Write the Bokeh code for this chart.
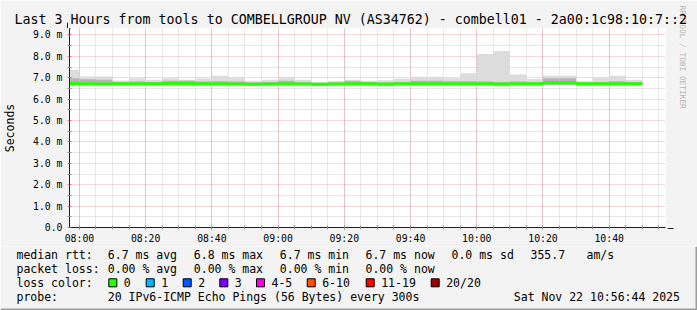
import math
from bokeh.plotting import figure
from bokeh.layouts import column
from bokeh.models import Range1d, FixedTicker, Title, Arrow, NormalHead
from bokeh.core.properties import value
from bokeh.embed import file_html
from bokeh.resources import INLINE

# ---------------- data ----------------
title_text = "Last 3 Hours from tools to COMBELLGROUP NV (AS34762) - combell01 - 2a00:1c98:10:7::2"
x_tick_labels = ["08:00", "08:20", "08:40", "09:00", "09:20", "09:40", "10:00", "10:20", "10:40"]
y_tick_values = [0, 1, 2, 3, 4, 5, 6, 7, 8, 9]
y_tick_labels = ["0.0", "1.0 m", "2.0 m", "3.0 m", "4.0 m", "5.0 m", "6.0 m", "7.0 m", "8.0 m", "9.0 m"]

block_start = ["07:57", "08:00", "08:05", "08:10", "08:15", "08:20", "08:25", "08:30", "08:35",
               "08:40", "08:45", "08:50", "08:55", "09:00", "09:05", "09:10", "09:15", "09:20",
               "09:25", "09:30", "09:35", "09:40", "09:45", "09:50", "09:55", "10:00", "10:05",
               "10:10", "10:15", "10:20", "10:25", "10:30", "10:35", "10:40", "10:45"]
block_last_end = "10:50"

# milliseconds
smoke_max = [7.37, 7.06, 7.06, 6.87, 6.97, 6.90, 6.97, 6.90, 6.96, 7.09, 7.03, 6.85, 6.90, 7.03,
             6.90, 6.79, 6.85, 6.90, 6.86, 6.88, 6.95, 7.05, 7.05, 6.98, 7.21, 8.11, 8.25, 7.15,
             6.94, 7.09, 7.09, 6.84, 7.00, 7.09, 6.90]
smoke_min = [6.64, 6.65, 6.62, 6.64, 6.65, 6.65, 6.65, 6.64, 6.64, 6.65, 6.64, 6.62, 6.62, 6.65,
             6.64, 6.60, 6.63, 6.64, 6.62, 6.59, 6.64, 6.64, 6.65, 6.65, 6.64, 6.65, 6.59, 6.65,
             6.64, 6.64, 6.64, 6.62, 6.62, 6.64, 6.65]
smoke_q_hi = [6.98, 6.93, 6.90, 6.80, 6.82, 6.80, 6.86, 6.86, 6.82, 6.84, 6.82, 6.78, 6.80, 6.86,
              6.79, 6.77, 6.78, 6.85, 6.80, 6.78, 6.80, 6.86, 6.86, 6.84, 6.84, 6.82, 6.80, 6.82,
              6.80, 6.97, 6.97, 6.78, 6.80, 6.84, 6.80]
smoke_q_lo = [6.67, 6.68, 6.66, 6.67, 6.68, 6.68, 6.68, 6.67, 6.67, 6.68, 6.67, 6.65, 6.65, 6.68,
              6.67, 6.64, 6.66, 6.67, 6.66, 6.63, 6.67, 6.67, 6.68, 6.68, 6.67, 6.68, 6.63, 6.68,
              6.67, 6.67, 6.67, 6.66, 6.66, 6.67, 6.68]
median_rtt = [6.73, 6.72, 6.71, 6.72, 6.72, 6.72, 6.73, 6.73, 6.72, 6.72, 6.71, 6.70, 6.71, 6.72,
              6.71, 6.70, 6.71, 6.72, 6.72, 6.71, 6.72, 6.72, 6.72, 6.72, 6.72, 6.72, 6.71, 6.72,
              6.72, 6.76, 6.76, 6.72, 6.72, 6.72, 6.72]

rtt_stats = {"avg": "6.7", "max": "6.8", "min": "6.7", "now": "6.7", "sd": "0.0", "ams": "355.7"}
loss_stats = {"avg": "0.00", "max": "0.00", "min": "0.00", "now": "0.00"}
loss_labels = ["0", "1", "2", "3", "4-5", "6-10", "11-19", "20/20"]
loss_colors = ["#26ff00", "#00b8ff", "#0059ff", "#7e00ff", "#ff00e6", "#ff5000", "#ff0000", "#a00000"]
probe_text = "20 IPv6-ICMP Echo Pings (56 Bytes) every 300s"
date_text = "Sat Nov 22 10:56:44 2025"


def minutes(s):
    h, m = s.split(":")
    return int(h) * 60 + int(m)


starts = [minutes(s) for s in block_start]
ends = starts[1:] + [minutes(block_last_end)]

# ---------------- layout ----------------
W, H = 697, 310
FL, FR, FT, FB = 67, 667, 28, 228
H1 = 246            # height of the chart part; legend part below
FONT = "DejaVu Sans Mono"
BACK = "#f3f3f3"

p = figure(width=W, height=H1, x_range=Range1d(minutes("07:57"), minutes("10:57")),
           y_range=Range1d(0, 9.3), output_backend="svg", toolbar_location=None,
           min_border_left=FL, min_border_right=W - FR, min_border_top=FT,
           min_border_bottom=H1 - FB)
p.frame_align = False
p.background_fill_color = "white"
p.border_fill_color = BACK
p.outline_line_color = None

p.title.text = title_text
p.title.text_font = FONT
p.title.text_font_size = "13.3px"
p.title.text_font_style = "normal"
p.title.text_color = "black"
p.title.align = "left"
p.title.offset = 12 - FL
p.title.standoff = 3

xt_pos = [minutes(s) for s in x_tick_labels]
xt = FixedTicker(ticks=xt_pos, minor_ticks=list(range(minutes("08:00"), minutes("10:57"), 5)))
p.xaxis.ticker = xt
p.xgrid.ticker = xt
p.xaxis.major_label_overrides = {t: l for t, l in zip(xt_pos, x_tick_labels)}

yt = FixedTicker(ticks=y_tick_values, minor_ticks=[v + 0.5 for v in y_tick_values])
p.yaxis.ticker = yt
p.ygrid.ticker = yt
p.yaxis.major_label_overrides = {t: l for t, l in zip(y_tick_values, y_tick_labels)}
p.yaxis.axis_label = "Seconds"
p.yaxis.axis_label_text_font = FONT
p.yaxis.axis_label_text_font_size = "11.5px"
p.yaxis.axis_label_text_font_style = "normal"
p.yaxis.axis_label_text_color = "black"
p.yaxis.axis_label_standoff = 13

for g in (p.xgrid[0], p.ygrid[0]):
    g.grid_line_color = "#de4f4f"
    g.grid_line_alpha = 0.45
    g.grid_line_dash = "1 1"
    g.minor_grid_line_color = "#8f8f8f"
    g.minor_grid_line_alpha = 0.4
    g.minor_grid_line_dash = "1 1"

for ax in (p.xaxis[0], p.yaxis[0]):
    ax.axis_line_color = "#1f1f1f"
    ax.major_label_text_font = FONT
    ax.major_label_text_font_size = "9.8px"
    ax.major_label_text_color = "black"
    ax.major_tick_line_color = "#de4f4f"
    ax.major_tick_line_alpha = 0.7
    ax.major_tick_in = 2
    ax.major_tick_out = 2
    ax.minor_tick_line_color = "#8f8f8f"
    ax.minor_tick_in = 2
    ax.minor_tick_out = 2
p.xaxis.major_label_standoff = 3
p.yaxis.major_label_standoff = 5

# watermark on the right side
p.add_layout(Title(text="RRDTOOL / TOBI OETIKER", text_font=FONT, text_font_size="7.8px",
                   text_font_style="normal", text_color="#b4b4b4", align="left",
                   vertical_align="top", standoff=21, offset=-23), "right")

# smoke
p.quad(left=starts, right=ends, bottom=smoke_min, top=smoke_max,
       fill_color="#dcdcdc", line_color=None)
p.quad(left=starts, right=ends, bottom=smoke_q_lo, top=smoke_q_hi,
       fill_color="#b4b4b4", line_color=None)
# median
p.step(x=starts + [ends[-1]], y=median_rtt + [median_rtt[-1]], mode="after",
       line_width=3, line_color=loss_colors[0])

# axis arrows
p.add_layout(Arrow(end=NormalHead(size=6, fill_color="#801f1f", line_color="#801f1f"),
                   x_start=FR, y_start=FB, x_end=FR + 6, y_end=FB,
                   start_units="canvas", end_units="canvas", line_color="#1f1f1f"))
p.add_layout(Arrow(end=NormalHead(size=6, fill_color="#801f1f", line_color="#801f1f"),
                   x_start=FL, y_start=FT, x_end=FL, y_end=FT - 6,
                   start_units="canvas", end_units="canvas", line_color="#1f1f1f"))

# ---------------- legend part (pixel coordinates of the full image) ----------------
q = figure(width=W, height=H - H1, x_range=Range1d(0, W), y_range=Range1d(H, H1),
           output_backend="svg", toolbar_location=None,
           min_border=0, min_border_left=0, min_border_right=0,
           min_border_top=0, min_border_bottom=0)
q.frame_align = False
q.axis.visible = False
q.grid.visible = False
q.background_fill_color = BACK
q.border_fill_color = BACK
q.outline_line_color = None

r1, r2, r3, r4 = 254.3, 268.3, 282.3, 296.0
lx, ly, lt = [], [], []


def put(X, Y, s):
    lx.append(X)
    ly.append(Y)
    lt.append(s)


put(16, r1, "median rtt:")
put(107.3, r1, f"{rtt_stats['avg']} ms avg")
put(193.3, r1, f"{rtt_stats['max']} ms max")
put(279.3, r1, f"{rtt_stats['min']} ms min")
put(365.0, r1, f"{rtt_stats['now']} ms now")
put(451.0, r1, f"{rtt_stats['sd']} ms sd")
put(530.0, r1, rtt_stats["ams"])
put(586.0, r1, "am/s")

put(16, r2, "packet loss:")
put(107.3, r2, f"{loss_stats['avg']} % avg")
put(193.3, r2, f"{loss_stats['max']} % max")
put(279.3, r2, f"{loss_stats['min']} % min")
put(365.0, r2, f"{loss_stats['now']} % now")

put(16, r3, "loss color:")
box_x = [108.3, 145.7, 182.7, 219.3, 256.0, 306.7, 365.7, 430.7]
for bx, lab in zip(box_x, loss_labels):
    put(bx + 15, r3, lab)
q.quad(left=box_x, right=[b + 8 for b in box_x], top=[r3 - 4] * 8, bottom=[r3 + 4] * 8,
       fill_color=loss_colors, line_color="black", line_width=1)

put(16, r4, "probe:")
put(107.3, r4, probe_text)
put(513.3, r4, date_text)

q.text(x=lx, y=ly, text=lt, text_font=value(FONT), text_font_size=value("11.5px"),
       text_baseline="middle", text_align="left", text_color="black")

# bottom / right shade of the image border
q.quad(left=[0, W - 2], right=[W, W], top=[H - 2, H1], bottom=[H, H],
       fill_color="#9e9e9e", line_color=None)

layout = column(p, q, spacing=0)
open("out.html", "w").write(file_html(layout, INLINE))
